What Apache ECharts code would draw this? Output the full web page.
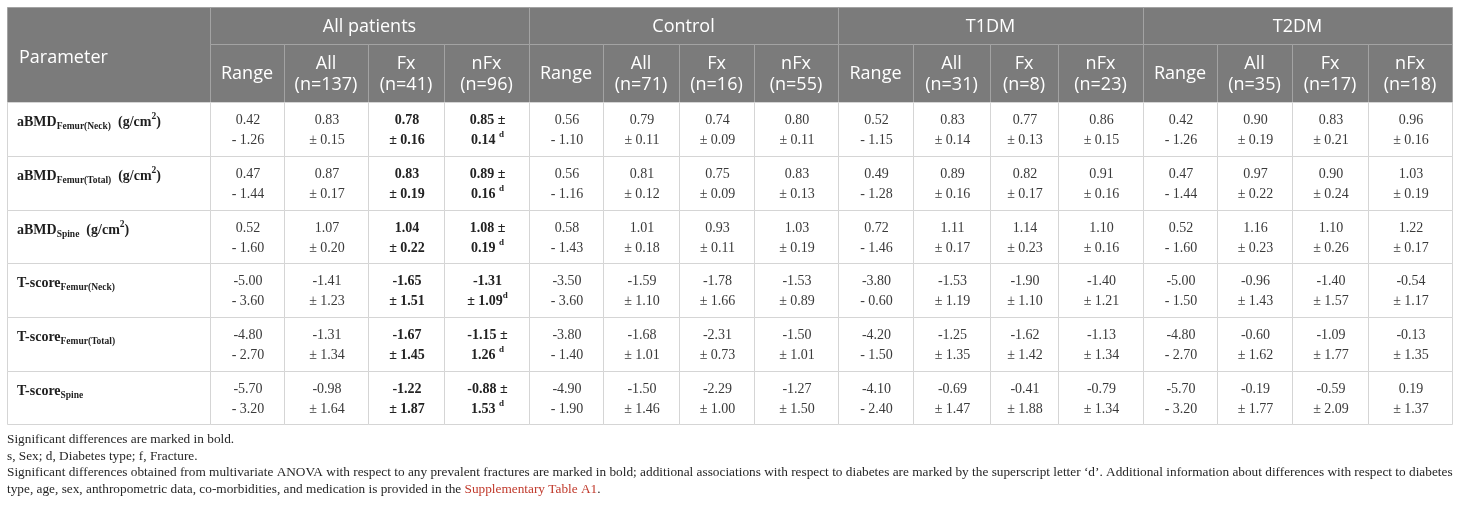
<!DOCTYPE html>
<html lang="en">
<head>
<meta charset="utf-8">
<script src="https://cdn.jsdelivr.net/npm/echarts/dist/echarts.min.js"></script>
<title></title>
<style>html, body { margin: 0; padding: 0; background: #fff; }</style>
</head>
<body>
<div id="main" style="width: 1460px;height:506px;"></div>
<script type="text/javascript">
// ---- table content ----
var groups = ['All patients', 'Control', 'T1DM', 'T2DM'];
var subHeads = ['Range', 'All', 'Fx', 'nFx'];
var groupN = [[137, 41, 96], [71, 16, 55], [31, 8, 23], [35, 17, 18]];

var paramName = ['aBMD', 'aBMD', 'aBMD', 'T-score', 'T-score', 'T-score'];
var paramSub = ['Femur(Neck)', 'Femur(Total)', 'Spine', 'Femur(Neck)', 'Femur(Total)', 'Spine'];
var unitBase = ['g/cm', 'g/cm', 'g/cm', '', '', ''];
var unitExp = ['2', '2', '2', '', '', ''];

// range per parameter, per group
var rangeLo = [
    [0.42, 0.56, 0.52, 0.42],
    [0.47, 0.56, 0.49, 0.47],
    [0.52, 0.58, 0.72, 0.52],
    [-5.00, -3.50, -3.80, -5.00],
    [-4.80, -3.80, -4.20, -4.80],
    [-5.70, -4.90, -4.10, -5.70]
];
var rangeHi = [
    [1.26, 1.10, 1.15, 1.26],
    [1.44, 1.16, 1.28, 1.44],
    [1.60, 1.43, 1.46, 1.60],
    [3.60, 3.60, 0.60, 1.50],
    [2.70, 1.40, 1.50, 2.70],
    [3.20, 1.90, 2.40, 3.20]
];
// mean per parameter, per group: [All, Fx, nFx]
var means = [
    [[0.83, 0.78, 0.85], [0.79, 0.74, 0.80], [0.83, 0.77, 0.86], [0.90, 0.83, 0.96]],
    [[0.87, 0.83, 0.89], [0.81, 0.75, 0.83], [0.89, 0.82, 0.91], [0.97, 0.90, 1.03]],
    [[1.07, 1.04, 1.08], [1.01, 0.93, 1.03], [1.11, 1.14, 1.10], [1.16, 1.10, 1.22]],
    [[-1.41, -1.65, -1.31], [-1.59, -1.78, -1.53], [-1.53, -1.90, -1.40], [-0.96, -1.40, -0.54]],
    [[-1.31, -1.67, -1.15], [-1.68, -2.31, -1.50], [-1.25, -1.62, -1.13], [-0.60, -1.09, -0.13]],
    [[-0.98, -1.22, -0.88], [-1.50, -2.29, -1.27], [-0.69, -0.41, -0.79], [-0.19, -0.59, 0.19]]
];
var sds = [
    [[0.15, 0.16, 0.14], [0.11, 0.09, 0.11], [0.14, 0.13, 0.15], [0.19, 0.21, 0.16]],
    [[0.17, 0.19, 0.16], [0.12, 0.09, 0.13], [0.16, 0.17, 0.16], [0.22, 0.24, 0.19]],
    [[0.20, 0.22, 0.19], [0.18, 0.11, 0.19], [0.17, 0.23, 0.16], [0.23, 0.26, 0.17]],
    [[1.23, 1.51, 1.09], [1.10, 1.66, 0.89], [1.19, 1.10, 1.21], [1.43, 1.57, 1.17]],
    [[1.34, 1.45, 1.26], [1.01, 0.73, 1.01], [1.35, 1.42, 1.34], [1.62, 1.77, 1.35]],
    [[1.64, 1.87, 1.53], [1.46, 1.00, 1.50], [1.47, 1.88, 1.34], [1.77, 2.09, 1.37]]
];
// significant cells [group, column]: bold; superscript 'd' on the last one
var boldCells = [[0, 2], [0, 3]];
var supCell = [0, 3];
var supWrapAfterPm = [true, true, true, false, true, true];

var notes = [
    'Significant differences are marked in bold.',
    's, Sex; d, Diabetes type; f, Fracture.',
    'Significant differences obtained from multivariate ANOVA with respect to any prevalent fractures are marked in bold; additional associations with respect to diabetes are marked by the superscript letter \u2018d\u2019. Additional information about differences with respect to diabetes',
    'type, age, sex, anthropometric data, co-morbidities, and medication is provided in the '
];
var noteLink = 'Supplementary Table A1';

// ---- layout (column / row edges in px, relative to the grid) ----
var colEdges = [0, 203, 277, 361, 437, 522, 596, 672, 747, 831, 906, 983, 1051, 1136, 1210, 1285, 1361, 1445];
var rowEdges = [0, 37, 95, 149, 203, 256, 310, 364, 417];

var headFill = '#7b7b7b';
var headLine = '#a3a3a3';
var bodyLine = '#d5d5d5';
var sans = '"Open Sans"';
var serif = '"Liberation Serif"';

function fmt(v) { return v.toFixed(2); }

function isBold(g, s) {
    for (var i = 0; i < boldCells.length; i++) {
        if (boldCells[i][0] === g && boldCells[i][1] === s) return true;
    }
    return false;
}

var cells = [];
function addCell(c0, c1, r0, r1, kind, text) {
    cells.push({c0: c0, c1: c1, r0: r0, r1: r1, kind: kind, text: text});
}

addCell(0, 1, 0, 2, 'hcorner', 'Parameter');
groups.forEach(function (g, gi) {
    addCell(1 + 4 * gi, 5 + 4 * gi, 0, 1, 'hgroup', g);
    subHeads.forEach(function (s, si) {
        var t = si === 0 ? s : s + '\n(n=' + groupN[gi][si - 1] + ')';
        addCell(1 + 4 * gi + si, 2 + 4 * gi + si, 1, 2, 'hsub', t);
    });
});

paramName.forEach(function (name, p) {
    var label = '{m|' + name + '}{sub|' + paramSub[p] + '}';
    if (unitBase[p]) label += '{m|  (' + unitBase[p] + '}{sup|' + unitExp[p] + '}{m|)}';
    addCell(0, 1, 2 + p, 3 + p, 'param', label);
    groups.forEach(function (g, gi) {
        subHeads.forEach(function (s, si) {
            var t;
            if (si === 0) {
                t = '{t|' + fmt(rangeLo[p][gi]) + '}\n{t|- ' + fmt(rangeHi[p][gi]) + '}';
            } else {
                var st = isBold(gi, si) ? 'b' : 't';
                var m = fmt(means[p][gi][si - 1]);
                var sd = fmt(sds[p][gi][si - 1]);
                if (supCell[0] === gi && supCell[1] === si) {
                    if (supWrapAfterPm[p]) {
                        t = '{' + st + '|' + m + ' \u00b1}\n{' + st + '|' + sd + ' }{sup|d}';
                    } else {
                        t = '{' + st + '|' + m + '}\n{' + st + '|\u00b1 ' + sd + '}{sup|d}';
                    }
                } else {
                    t = '{' + st + '|' + m + '}\n{' + st + '|\u00b1 ' + sd + '}';
                }
            }
            addCell(1 + 4 * gi + si, 2 + 4 * gi + si, 2 + p, 3 + p, 'data', t);
        });
    });
});

var dataRich = {
    t: {fontFamily: serif, fontSize: 14, fill: '#3a3a3a', lineHeight: 20},
    b: {fontFamily: serif, fontSize: 14, fontWeight: 'bold', fill: '#222', lineHeight: 20},
    sup: {fontFamily: serif, fontSize: 9, fontWeight: 'bold', fill: '#222', lineHeight: 13, verticalAlign: 'top'}
};
var paramRich = {
    m: {fontFamily: serif, fontSize: 14, fontWeight: 'bold', fill: '#1e1e1e', lineHeight: 20},
    sub: {fontFamily: serif, fontSize: 9.5, fontWeight: 'bold', fill: '#1e1e1e', lineHeight: 10, verticalAlign: 'bottom'},
    sup: {fontFamily: serif, fontSize: 9.5, fontWeight: 'bold', fill: '#1e1e1e', lineHeight: 12, verticalAlign: 'top'}
};

function renderCell(params, api) {
    var c = cells[params.dataIndex];
    var p0 = api.coord([api.value(0), api.value(2)]);
    var p1 = api.coord([api.value(1), api.value(3)]);
    var x = Math.round(p0[0]), y = Math.round(p0[1]);
    var w = Math.round(p1[0]) - x, h = Math.round(p1[1]) - y;
    var head = c.kind.charAt(0) === 'h';
    var children = [{
        type: 'rect',
        shape: {x: x + 0.5, y: y + 0.5, width: w, height: h},
        style: {fill: head ? headFill : '#fff', stroke: head ? headLine : bodyLine, lineWidth: 1}
    }];
    var ts;
    if (c.kind === 'hcorner') {
        ts = {text: c.text, x: x + 12, y: y + h / 2 + 3, align: 'left', verticalAlign: 'middle',
            fontFamily: sans, fontSize: 18, fill: '#fff'};
    } else if (c.kind === 'hgroup' || c.kind === 'hsub') {
        ts = {text: c.text, x: x + w / 2, y: y + h / 2 + 1, align: 'center', verticalAlign: 'middle',
            fontFamily: sans, fontSize: 18, lineHeight: 21, fill: '#fff'};
    } else if (c.kind === 'param') {
        ts = {text: c.text, x: x + 10, y: y + 10, align: 'left', verticalAlign: 'top', rich: paramRich};
    } else {
        ts = {text: c.text, x: x + w / 2 + 1, y: y + 8, align: 'center', verticalAlign: 'top', rich: dataRich};
    }
    children.push({type: 'text', style: ts});
    return {type: 'group', children: children};
}

var myChart = echarts.init(document.getElementById('main'));
var option = {
    animation: false,
    grid: {left: 7, right: 8, top: 7, bottom: 82},
    xAxis: {type: 'value', min: 0, max: colEdges[colEdges.length - 1], show: false},
    yAxis: {type: 'value', min: 0, max: rowEdges[rowEdges.length - 1], inverse: true, show: false},
    series: [{
        type: 'custom',
        renderItem: renderCell,
        encode: {x: [0, 1], y: [2, 3]},
        data: cells.map(function (c) {
            return [colEdges[c.c0], colEdges[c.c1], rowEdges[c.r0], rowEdges[c.r1]];
        })
    }],
    graphic: [{
        type: 'text',
        left: 7,
        top: 431,
        style: {
            text: notes.join('\n') + '{link|' + noteLink + '}.',
            fontFamily: serif,
            fontSize: 13.3,
            lineHeight: 16.7,
            fill: '#262626',
            rich: {
                link: {fontFamily: serif, fontSize: 13.3, lineHeight: 16.7, fill: '#c0392b'}
            }
        }
    }]
};
myChart.setOption(option);
</script>
</body>
</html>
